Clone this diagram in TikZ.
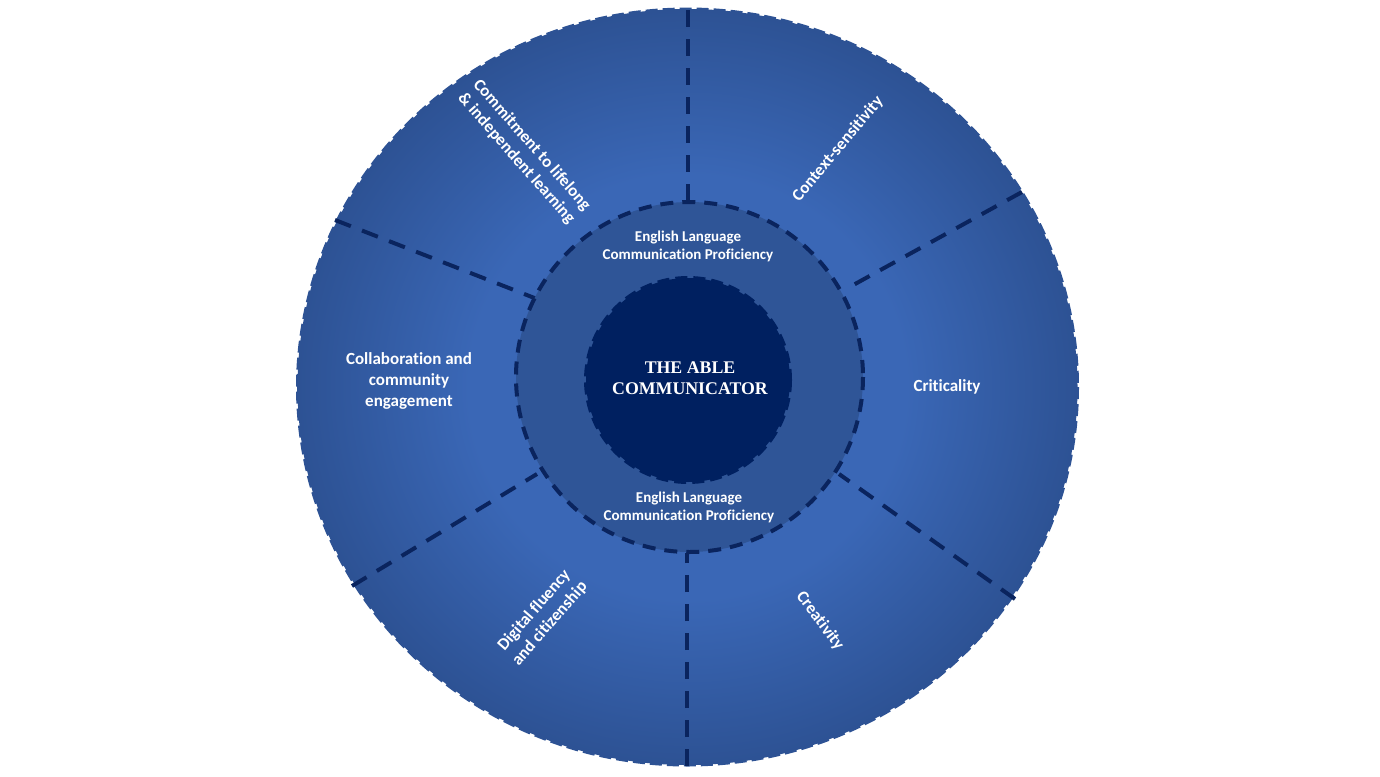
\documentclass[tikz,border=0pt]{standalone}
\usepackage{fontspec}
\setmainfont[Ligatures=NoCommon]{Carlito}
\newfontfamily\titlefont{Liberation Serif}
\definecolor{brightblue}{RGB}{58,103,182}
\definecolor{edgeblue}{RGB}{45,82,148}
\definecolor{ringblue}{RGB}{47,85,151}
\definecolor{divnavy}{RGB}{10,36,94}
\definecolor{corenavy}{RGB}{0,32,96}
\pgfdeclareradialshading{outershade}{\pgfpoint{0bp}{0bp}}{color(0bp)=(brightblue); color(14bp)=(brightblue); color(25bp)=(edgeblue); color(50bp)=(edgeblue)}
\tikzset{
  divider/.style={draw=divnavy, line width=2pt, dash pattern=on 8.5pt off 6pt},
  lbl/.style={text=white, font=\bfseries\fontsize{8.5}{10.3}\selectfont, align=center, inner sep=0pt},
  elcp/.style={text=white, font=\bfseries\fontsize{7.5}{9}\selectfont, align=center, inner sep=0pt},
  titlelbl/.style={text=white, font=\titlefont\bfseries\fontsize{8.9}{10.5}\selectfont, align=center, inner sep=0pt}
}
\begin{document}
\begin{tikzpicture}[x=0.5pt,y=-0.5pt]
\useasboundingbox (0,0) rectangle (1380,776);
% outer disc
\shade[shading=outershade] (687.5,387) ellipse [x radius=390, y radius=378];
\draw[edgeblue, line width=1.5pt, dash pattern=on 6pt off 2.5pt] (687.5,387) ellipse [x radius=390, y radius=378];
% divider end points
\coordinate (t1) at (688,10);   \coordinate (t2) at (688,202);
\coordinate (b1) at (687,553);  \coordinate (b2) at (687,766);
\coordinate (ul1) at (335,220); \coordinate (ul2) at (537,299);
\coordinate (ur1) at (1022,192);\coordinate (ur2) at (846,289);
\coordinate (ll1) at (352,586); \coordinate (ll2) at (537,474);
\coordinate (lr1) at (1015,599);\coordinate (lr2) at (839,474);
\draw[divider] (t1) -- (t2);
\draw[divider] (b2) -- (b1);
\draw[divider] (ul1) -- (ul2);
\draw[divider] (ur1) -- (ur2);
\draw[divider] (ll1) -- (ll2);
\draw[divider] (lr1) -- (lr2);
% middle ring
\filldraw[fill=ringblue, draw=divnavy, line width=2pt, dash pattern=on 6.5pt off 4.5pt] (689.5,377) ellipse [x radius=173.5, y radius=175];
% core
\filldraw[fill=corenavy, draw=corenavy, line width=2pt, dash pattern=on 6pt off 3pt] (688,380) ellipse [x radius=102, y radius=102];
% texts
\node[titlelbl] (core) at (690,378) {THE ABLE\\COMMUNICATOR};
\node[elcp] (elcptop) at (688,246) {English Language\\Communication Proficiency};
\node[elcp] (elcpbot) at (689,507) {English Language\\Communication Proficiency};
\node[lbl] (collab) at (409,381) {Collaboration and\\community\\engagement};
\node[lbl] (crit) at (947,387) {Criticality};
\node[lbl, rotate=50] (context) at (838,149) {Context-sensitivity};
\node[lbl, rotate=-53] (creat) at (820,621) {Creativity};
\node[lbl, rotate=49] (digital) at (542,617) {Digital fluency\\and citizenship};
\node[lbl, rotate=-48.6] (commit) at (524,152) {Commitment to lifelong\\\& independent learning};
\end{tikzpicture}
\end{document}
